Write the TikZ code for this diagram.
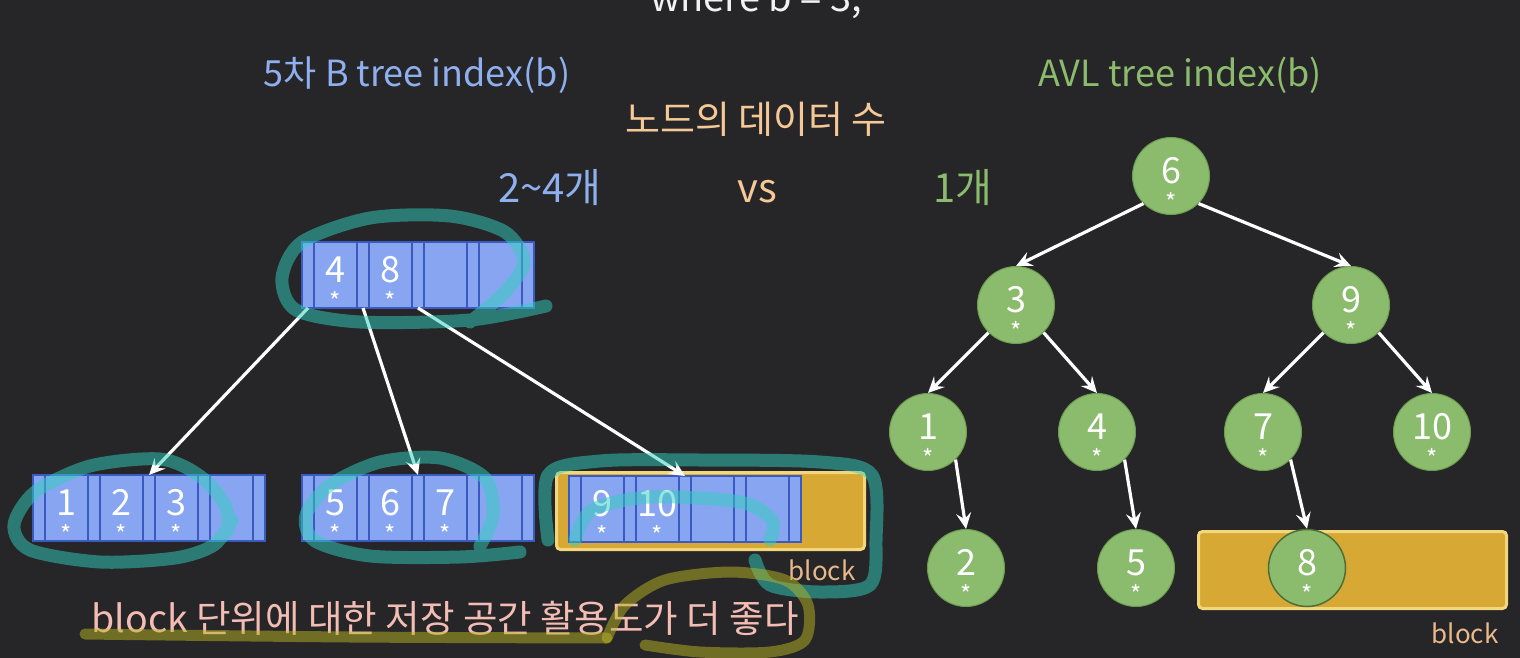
\documentclass[tikz,border=0pt]{standalone}
\usepackage{fontspec}
\setmainfont{Noto Sans CJK KR}
\usepackage{xcolor}
\usepackage{tikz}
\usetikzlibrary{positioning,arrows.meta}
\definecolor{cBg}{HTML}{262528}
\definecolor{cBlue}{HTML}{8FB0EE}
\definecolor{cGreen}{HTML}{8BBB6C}
\definecolor{cGreenLine}{HTML}{6E9D50}
\definecolor{cPeach}{HTML}{F5C896}
\definecolor{cBlockTxt}{HTML}{E9B98A}
\definecolor{cPink}{HTML}{F3BDB4}
\definecolor{cCell}{HTML}{87A5F0}
\definecolor{cCellLine}{HTML}{3B5AC0}
\definecolor{cGold}{HTML}{D7A834}
\definecolor{cGoldLine}{HTML}{F3D77C}
\definecolor{cTealHl}{HTML}{30D1C0}
\definecolor{cOliveHl}{HTML}{BAB524}
\definecolor{cInk}{HTML}{F2F2F2}

% key value: number with a star under it (zero size, centred on the node)
\newcommand{\kv}[1]{%
  \makebox[0pt]{\raisebox{-7pt}[0pt][0pt]{\fontsize{36}{36}\selectfont #1}}%
  \makebox[0pt]{\raisebox{-35pt}[0pt][0pt]{\fontsize{24}{24}\selectfont *}}}
% one B tree node: 5 pointer cells, 4 key cells
\newcommand{\bnode}[6]{%
  \node[ptr, anchor=north west] (#1-p0) at #2 {};
  \node[key, right=0pt of #1-p0] (#1-k1) {#3};
  \node[ptr, right=0pt of #1-k1] (#1-p1) {};
  \node[key, right=0pt of #1-p1] (#1-k2) {#4};
  \node[ptr, right=0pt of #1-k2] (#1-p2) {};
  \node[key, right=0pt of #1-p2] (#1-k3) {#5};
  \node[ptr, right=0pt of #1-k3] (#1-p3) {};
  \node[key, right=0pt of #1-p3] (#1-k4) {#6};
  \node[ptr, right=0pt of #1-k4] (#1-p4) {};
}

\begin{document}
\begin{tikzpicture}[
  x=1pt, y=-1pt,
  ptr/.style={draw=cCellLine, fill=cCell, line width=1.2pt, minimum width=12pt, minimum height=66pt, inner sep=0pt, outer sep=0pt},
  key/.style={ptr, minimum width=43pt, text=white},
  avl/.style={circle, draw=cGreenLine, fill=cGreen, line width=1pt, minimum size=77pt, inner sep=0pt, text=white},
  arr/.style={-{Stealth[length=16pt,width=15pt,inset=6pt]}, white, line width=3.2pt},
  blk/.style={fill=cGold, draw=cGoldLine, line width=3pt, rounded corners=4pt, minimum width=308pt, minimum height=77pt, anchor=north west},
  hdr/.style={anchor=base, font=\fontsize{36}{40}\selectfont},
  big/.style={anchor=base, font=\fontsize{40}{44}\selectfont},
  blklbl/.style={anchor=base east, text=cBlockTxt, font=\fontsize{26}{30}\selectfont},
  hl/.style={line width=13pt, line cap=round, line join=round, cTealHl, opacity=0.5},
]
\clip (0,0) rectangle (1520,658);
\fill[cBg] (0,0) rectangle (1520,658);

% ---------- titles ----------
\node[anchor=base, text=cInk, font=\fontsize{38}{40}\selectfont] (where) at (756,12) {where b = 3;};
\node[hdr, text=cBlue] (btitle) at (417,87) {5차 B tree index(b)};
\node[hdr, text=cGreen] (atitle) at (1180,87) {AVL tree index(b)};
\node[hdr, text=cPeach, font=\fontsize{38}{40}\selectfont] (count) at (756,134) {노드의 데이터 수};
\node[big, text=cBlue] (bcount) at (550,202) {2\textasciitilde4개};
\node[big, text=cPeach] (vs) at (757,202) {vs};
\node[big, text=cGreen] (acount) at (963,202) {1개};

% ---------- B tree ----------
\node[blk] (bblock) at (555,471) {};
\node[blklbl] (bblocklbl) at (859,580) {block};
\bnode{root}{(302,242)}{\kv{4}}{\kv{8}}{}{}
\bnode{leafA}{(33,475)}{\kv{1}}{\kv{2}}{\kv{3}}{}
\bnode{leafB}{(302,475)}{\kv{5}}{\kv{6}}{\kv{7}}{}
\bnode{leafC}{(569,476)}{\kv{9}}{\kv{10}}{}{}
\draw[arr] (root-p0.south) -- (leafA-p2.north);
\draw[arr] (root-p1.south) -- (leafB-p2.north);
\draw[arr] (root-p2.south) -- (leafC-p2.north);

% ---------- AVL tree ----------
\node[blk] (ablock) at (1197,530) {};
\node[blklbl] (ablocklbl) at (1502,643) {block};
\node[avl] (n6) at (1171,176) {\kv{6}};
\node[avl] (n3) at (1016,305) {\kv{3}};
\node[avl] (n9) at (1351,305) {\kv{9}};
\node[avl] (n1) at (928,432) {\kv{1}};
\node[avl] (n4) at (1097,432) {\kv{4}};
\node[avl] (n7) at (1263,432) {\kv{7}};
\node[avl] (n10) at (1432,432) {\kv{10}};
\node[avl] (n2) at (966,568) {\kv{2}};
\node[avl] (n5) at (1136,568) {\kv{5}};
\node[avl, draw=cGreenLine!70!black, line width=1.5pt] (n8) at (1307,568) {\kv{8}};
\draw[arr] (n6.south west) -- (n3.north);
\draw[arr] (n6.south east) -- (n9.north);
\draw[arr] (n3.south west) -- (n1.north);
\draw[arr] (n3.south east) -- (n4.north);
\draw[arr] (n9.south west) -- (n7.north);
\draw[arr] (n9.south east) -- (n10.north);
\draw[arr] (n1.south east) -- (n2.north);
\draw[arr] (n4.south east) -- (n5.north);
\draw[arr] (n7.south east) -- (n8.north);

% ---------- conclusion ----------
\node[anchor=base west, text=cPink, font=\fontsize{37.5}{40}\selectfont] (concl) at (88,632) {block 단위에 대한 저장 공간 활용도가 더 좋다};

% ---------- pen marks ----------
\draw[hl] plot[smooth] coordinates {(546,306) (470,320) (360,322) (296,310) (282,278) (302,242) (370,218) (450,216) (505,232) (524,262) (505,292) (470,322)};
\draw[hl] plot[smooth] coordinates {(232,520) (214,545) (175,558) (100,562) (30,550) (14,525) (35,492) (90,466) (160,459) (200,476) (225,505) (228,530)};
\draw[hl] plot[smooth] coordinates {(520,552) (460,557) (370,556) (315,541) (306,515) (330,485) (380,462) (440,458) (485,478) (493,515) (480,546)};
\draw[hl] plot[smooth] coordinates {(548,540) (548,475) (600,461) (700,460) (820,462) (872,475) (876,540) (870,585) (820,592) (770,585) (755,560)};
\draw[hl] plot[smooth] coordinates {(575,540) (592,510) (650,497) (740,502) (772,520) (770,540)};
\draw[hl, cOliveHl, line width=11pt] plot[smooth] coordinates {(85,634) (350,637) (607,638)};
\draw[hl, cOliveHl, line width=11pt] plot[smooth] coordinates {(607,638) (625,605) (665,580) (730,572) (785,580) (808,605) (805,640) (770,652) (700,652) (645,645)};
\end{tikzpicture}
\end{document}
